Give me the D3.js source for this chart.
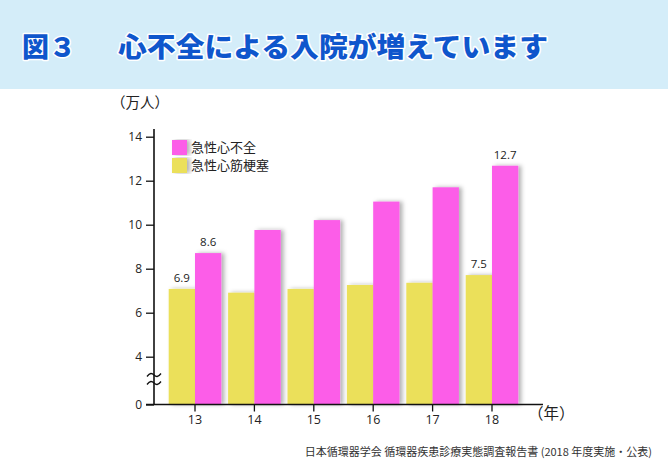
<!DOCTYPE html>
<html><head><meta charset="utf-8">
<script src="https://cdn.jsdelivr.net/npm/d3@7"></script>
<style>
html,body{margin:0;padding:0;background:#fff;}
svg{display:block;}
</style></head>
<body>
<svg id="c" width="668" height="472"></svg>
<script>
const years = ["13","14","15","16","17","18"];
const amiValues = [7.08, 6.91, 7.08, 7.26, 7.36, 7.71];   // 急性心筋梗塞
const hfValues  = [8.71, 9.76, 10.21, 11.05, 11.70, 12.68]; // 急性心不全
const amiLabels = ["6.9", "", "", "", "", "7.5"];
const hfLabels  = ["8.6", "", "", "", "", "12.7"];
const yTicks = [0, 4, 6, 8, 10, 12, 14];
const seriesNames = ["急性心不全", "急性心筋梗塞"];
const colors = {hf: "#fc5de8", ami: "#ebe05a"};

const svg = d3.select("#c");
const font = "'Noto Sans CJK JP','Noto Sans',sans-serif";

// header
svg.append("rect").attr("x",0).attr("y",0).attr("width",668).attr("height",89).attr("fill","#d4edf9");
const title = svg.append("g").attr("font-family",font).attr("font-weight",900).attr("font-size",27)
  .attr("fill","#0f56cc").attr("stroke","#ffffff").attr("stroke-width",3).attr("paint-order","stroke").attr("stroke-linejoin","round");
title.append("text").attr("x",22).attr("y",57).text("図３");
title.append("text").attr("x",118).attr("y",57).attr("textLength",430).attr("lengthAdjust","spacingAndGlyphs").text("心不全による入院が増えています");

const defs = svg.append("defs");
const f = defs.append("filter").attr("id","sh").attr("x","-20%").attr("y","-5%").attr("width","150%").attr("height","110%");
f.append("feDropShadow").attr("dx",3).attr("dy",0).attr("stdDeviation",2).attr("flood-color","#000").attr("flood-opacity",0.3);

const x = d3.scaleBand().domain(years).range([165.3, 521.7]).padding(0);
const y = d3.scaleLinear().domain([0,4,14]).range([404.5,356.7,136.7]);
const bw = 26.3;

const g = svg.append("g");
// bars
years.forEach((yr,i)=>{
  const cx = x(yr) + x.bandwidth()/2;
  g.append("rect").attr("x",cx-bw).attr("y",y(amiValues[i])).attr("width",bw).attr("height",y(0)-y(amiValues[i]))
    .attr("fill",colors.ami).attr("filter","url(#sh)");
  g.append("rect").attr("x",cx).attr("y",y(hfValues[i])).attr("width",bw).attr("height",y(0)-y(hfValues[i]))
    .attr("fill",colors.hf).attr("filter","url(#sh)");
  if (amiLabels[i]) g.append("text").attr("x",cx-bw/2).attr("y",y(amiValues[i])-7).attr("text-anchor","middle")
    .attr("font-family","'Open Sans',sans-serif").attr("font-size",11.5).attr("fill","#222").text(amiLabels[i]);
  if (hfLabels[i]) g.append("text").attr("x",cx+bw/2).attr("y",y(hfValues[i])-7).attr("text-anchor","middle")
    .attr("font-family","'Open Sans',sans-serif").attr("font-size",11.5).attr("fill","#222").text(hfLabels[i]);
});

// y axis
const ya = svg.append("g").attr("transform","translate(154,0)")
  .call(d3.axisLeft(y).tickValues(yTicks).tickSize(8).tickPadding(4).tickFormat(d3.format("d")));
ya.select(".domain").remove();
ya.selectAll("line").attr("stroke","#111").attr("stroke-width",1.3);
ya.selectAll("text").attr("font-family","'Open Sans',sans-serif").attr("font-size",12).attr("fill","#222");
svg.append("line").attr("x1",154).attr("x2",154).attr("y1",129).attr("y2",y(0)).attr("stroke","#111").attr("stroke-width",1.6);

// break marks
[375, 383].forEach(yy=>{
  svg.append("path").attr("d",`M147,${yy+1.5} C150,${yy-2.5} 152,${yy-2} 154,${yy} S158,${yy+2.5} 161,${yy-1.5}`)
    .attr("fill","none").attr("stroke","#111").attr("stroke-width",1.3);
});

// x axis
const xa = svg.append("g").attr("transform",`translate(0,${y(0)})`)
  .call(d3.axisBottom(x).tickSize(7).tickPadding(4));
xa.select(".domain").remove();
xa.selectAll("line").attr("stroke","#111").attr("stroke-width",1.3);
xa.selectAll("text").attr("font-family","'Open Sans',sans-serif").attr("font-size",12.5).attr("fill","#222");
svg.append("line").attr("x1",146).attr("x2",543).attr("y1",y(0)).attr("y2",y(0)).attr("stroke","#111").attr("stroke-width",1.6);

// unit labels
svg.append("text").attr("x",111).attr("y",108).attr("font-family",font).attr("font-size",14.5).attr("fill","#222").text("（万人）");
svg.append("text").attr("x",528).attr("y",419).attr("font-family",font).attr("font-size",15.5).attr("fill","#222").text("（年）");

// legend
const leg = svg.append("g");
[["hf",0],["ami",1]].forEach(([k,i])=>{
  leg.append("rect").attr("x",172).attr("y",140+i*18).attr("width",15).attr("height",15).attr("fill",colors[k]).attr("filter","url(#sh)");
  leg.append("text").attr("x",191).attr("y",152+i*18).attr("font-family",font).attr("font-size",13).attr("fill","#222").text(seriesNames[i]);
});

// source
svg.append("text").attr("x",652).attr("y",456).attr("text-anchor","end").attr("font-family",font).attr("font-size",11).attr("fill","#333")
  .text("日本循環器学会 循環器疾患診療実態調査報告書 (2018 年度実施・公表)");
</script>
</body></html>
